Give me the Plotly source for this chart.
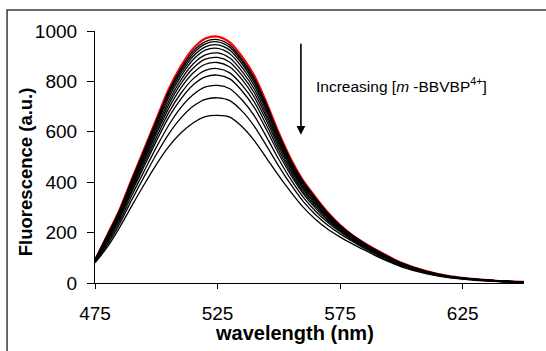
import plotly.graph_objects as go

# wavelength (nm)
wavelength = [475, 480, 485, 490, 495, 500, 505, 510, 515, 520, 525, 530, 535, 540, 545,
              550, 555, 560, 565, 570, 575, 580, 585, 590, 595, 600, 610, 620, 630, 640, 650]

# red curve: no quencher
free_dye = [92, 190, 290, 412, 530, 650, 768, 860, 930, 970, 978, 955, 898, 822, 715,
            595, 490, 405, 340, 280, 230, 190, 158, 130, 104, 80, 47, 26, 15, 8, 5]

# black curves: increasing [m-BBVBP4+]
titration = [
    [92, 188, 287, 408, 525, 643, 759, 850, 919, 958, 966, 944, 887, 812, 707, 589, 485, 401, 337, 277, 228, 189, 157, 129, 103, 79, 47, 26, 15, 8, 5],
    [91, 187, 285, 405, 521, 638, 753, 842, 910, 949, 957, 935, 879, 805, 700, 584, 481, 398, 334, 275, 227, 188, 156, 128, 102, 79, 46, 25, 15, 8, 5],
    [91, 185, 282, 401, 515, 631, 744, 832, 899, 937, 945, 924, 869, 795, 692, 577, 476, 394, 331, 273, 225, 187, 155, 127, 101, 78, 46, 25, 15, 8, 5],
    [90, 183, 279, 396, 509, 623, 734, 820, 886, 924, 931, 910, 856, 783, 682, 570, 471, 389, 327, 270, 223, 185, 154, 126, 100, 77, 45, 24, 14, 8, 5],
    [90, 180, 275, 390, 501, 613, 720, 805, 869, 905, 913, 893, 840, 769, 669, 560, 463, 383, 321, 266, 221, 183, 152, 124, 99, 76, 45, 24, 14, 8, 5],
    [89, 177, 271, 384, 493, 602, 707, 790, 852, 888, 895, 876, 824, 754, 657, 550, 456, 377, 316, 262, 218, 181, 150, 122, 98, 75, 44, 24, 14, 8, 5],
    [88, 174, 266, 378, 484, 591, 692, 773, 833, 868, 875, 857, 807, 737, 643, 539, 447, 371, 310, 258, 215, 179, 148, 121, 97, 74, 44, 23, 14, 7, 4],
    [87, 170, 261, 369, 473, 577, 675, 752, 810, 844, 851, 834, 785, 718, 626, 526, 437, 362, 304, 252, 212, 176, 146, 119, 95, 73, 43, 23, 13, 7, 4],
    [86, 166, 255, 361, 462, 562, 656, 730, 786, 818, 825, 810, 762, 696, 607, 512, 426, 354, 296, 247, 208, 173, 143, 117, 93, 72, 42, 23, 13, 7, 4],
    [85, 159, 245, 347, 443, 538, 625, 696, 747, 778, 784, 771, 726, 663, 579, 490, 409, 340, 285, 240, 203, 170, 140, 114, 91, 70, 41, 22, 13, 7, 4],
    [83, 151, 234, 330, 421, 510, 590, 654, 701, 729, 735, 724, 682, 622, 544, 463, 389, 323, 271, 229, 195, 165, 136, 110, 87, 68, 39, 21, 12, 6, 3],
    [80, 142, 220, 306, 390, 470, 540, 595, 635, 660, 665, 658, 620, 565, 495, 425, 360, 300, 252, 213, 182, 155, 130, 106, 84, 64, 37, 20, 11, 6, 3],
]

x_ticks = [475, 525, 575, 625]
y_ticks = [0, 200, 400, 600, 800, 1000]

FONT = "Liberation Sans, Arial, sans-serif"

fig = go.Figure()
fig.add_trace(go.Scatter(x=wavelength, y=free_dye, mode="lines",
                         line=dict(color="#ff0000", width=2.2, shape="spline", smoothing=0.8),
                         showlegend=False, hoverinfo="skip"))
for series in titration:
    fig.add_trace(go.Scatter(x=wavelength, y=series, mode="lines",
                             line=dict(color="black", width=1.3, shape="spline", smoothing=0.8),
                             showlegend=False, hoverinfo="skip"))

fig.update_layout(
    width=546, height=351,
    margin=dict(l=95, r=22, t=31, b=68),
    paper_bgcolor="white", plot_bgcolor="white",
    font=dict(family=FONT, color="black"),
    xaxis=dict(range=[475, 650], tickvals=x_ticks, ticktext=[str(v) for v in x_ticks],
               showgrid=False, zeroline=False, showline=True, linecolor="black",
               linewidth=1.2, ticks="outside", ticklen=5, tickwidth=1.2,
               tickcolor="black", tickfont=dict(size=19), ticklabelstandoff=8),
    yaxis=dict(range=[0, 1000], tickvals=y_ticks, ticktext=[str(v) for v in y_ticks],
               showgrid=False, zeroline=False, showline=True, linecolor="black",
               linewidth=1.2, ticks="outside", ticklen=7, tickwidth=1.2,
               tickcolor="black", tickfont=dict(size=19), ticklabelstandoff=6),
    shapes=[dict(type="rect", xref="paper", yref="paper",
                 x0=-0.205, x1=1.2, y0=-0.4, y1=1.083,
                 line=dict(color="#3a3a3a", width=1.5), layer="below")],
    annotations=[
        dict(text="<b>Fluorescence (a.u.)</b>", xref="paper", yref="paper",
             x=-0.163, y=0.44, textangle=-90, showarrow=False,
             font=dict(size=18.5, family=FONT), xanchor="center", yanchor="middle"),
        dict(text="<b>wavelength (nm)</b>", xref="paper", yref="paper",
             x=0.466, y=-0.197, showarrow=False,
             font=dict(size=20, family=FONT), xanchor="center", yanchor="middle"),
        dict(text="Increasing [<i>m</i> -BBVBP<sup>4+</sup>]", xref="x", yref="y",
             x=564.4, y=787, showarrow=False, xanchor="left", yanchor="middle",
             font=dict(size=15.5, family=FONT)),
        dict(text="", x=559, y=588, xref="x", yref="y", ax=559, ay=955,
             axref="x", ayref="y", showarrow=True, arrowhead=2, arrowsize=1.1,
             arrowwidth=1.6, arrowcolor="black"),
    ],
)

fig.write_html("out.html")
